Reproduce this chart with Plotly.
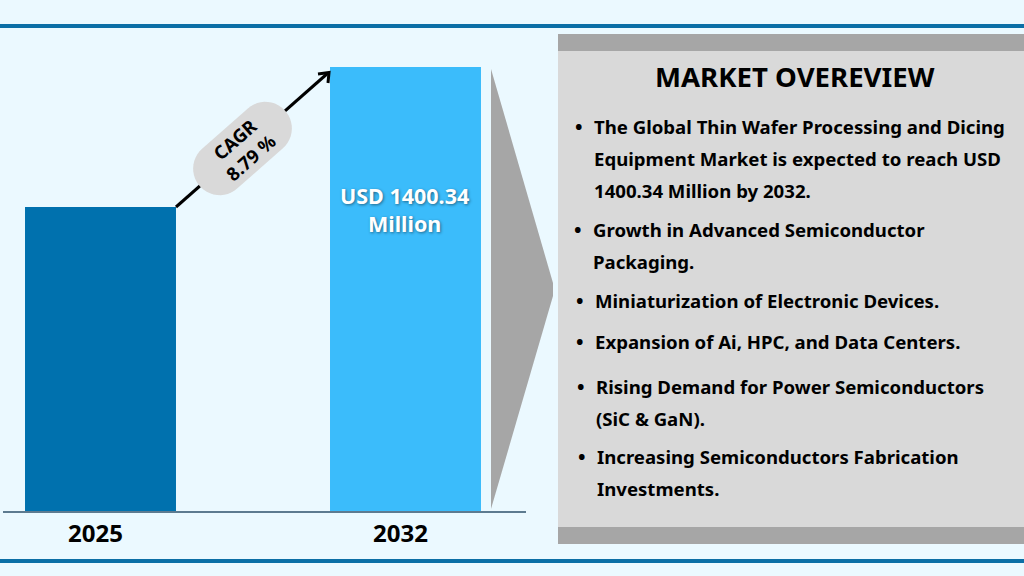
import numpy as np
import plotly.graph_objects as go

W, H = 1024, 576

years = ["2025", "2032"]
values = [959, 1400.34]
bar_colors = ["#0071ae", "#3bbcfb"]
bar_label = "USD 1400.34<br>Million"
cagr_label = "CAGR<br>8.79 %"
panel_title = "MARKET OVEREVIEW"

# (text, x of text, y of first line); wrapped lines stay as in the picture
bullets = [
    (["The Global Thin Wafer Processing and Dicing",
      "Equipment Market is expected to reach USD",
      "1400.34 Million by 2032."], 594, [126, 158, 190]),
    (["Growth in Advanced Semiconductor", "Packaging."], 593, [229, 261]),
    (["Miniaturization of Electronic Devices."], 595, [300]),
    (["Expansion of Ai, HPC, and Data Centers."], 595, [341]),
    (["Rising Demand for Power Semiconductors", "(SiC & GaN)."], 596, [386, 418]),
    (["Increasing Semiconductors Fabrication", "Investments."], 597, [456, 488]),
]

FONT = "Noto Sans"


def px(x):
    return x / W


def py(y):
    return 1 - y / H


def rect(x0, y0, x1, y1, color):
    return dict(type="rect", xref="paper", yref="paper", x0=px(x0), x1=px(x1),
                y0=py(y0), y1=py(y1), fillcolor=color, line_width=0, layer="below")


def poly_path(points, close=True):
    return "M" + "L".join(f"{px(a):.5f},{py(b):.5f}" for a, b in points) + ("Z" if close else "")


def pill_path(cx, cy, length, thick, angle):
    # rounded bar turned by angle, built in pixels then moved to paper coords
    r = thick / 2
    t1 = np.linspace(-np.pi / 2, np.pi / 2, 24)
    t2 = t1 + np.pi
    xs = np.r_[length / 2 - r + r * np.cos(t1), -length / 2 + r + r * np.cos(t2)]
    ys = np.r_[r * np.sin(t1), r * np.sin(t2)]
    a = np.radians(angle)
    return poly_path(list(zip(cx + xs * np.cos(a) - ys * np.sin(a),
                              cy + xs * np.sin(a) + ys * np.cos(a))))


def label(x, y, text, size, color="#000000", **kw):
    font = dict(family=FONT, size=size, color=color)
    if "shadow" in kw:
        font["shadow"] = kw.pop("shadow")
    args = dict(xref="paper", yref="paper", x=px(x), y=py(y), text=f"<b>{text}</b>", showarrow=False,
                xanchor="center", yanchor="middle", font=font)
    args.update(kw)
    return args


fig = go.Figure(go.Bar(
    x=years,
    y=values,
    width=0.495,
    marker=dict(color=bar_colors, line_width=0),
    hoverinfo="skip",
))

shapes = [
    rect(0, 24, W, 28, "#0b6fa6"),
    rect(0, 559, W, 563, "#0b6fa6"),
    rect(558, 34, W, 544, "#d9d9d9"),
    rect(558, 34, W, 51, "#a6a6a6"),
    rect(558, 527, W, 544, "#a6a6a6"),
    dict(type="path", xref="paper", yref="paper", line_width=0, fillcolor="#a6a6a6", layer="below",
         path=poly_path([(491, 69), (553, 283), (553, 296), (491, 509)])),
    # arrow, then the pill on top of it
    dict(type="line", xref="paper", yref="paper", x0=px(176), y0=py(207), x1=px(328), y1=py(73),
         line=dict(color="#000000", width=3)),
    dict(type="path", xref="paper", yref="paper", line=dict(color="#000000", width=3),
         path=poly_path([(318, 74), (329, 72.5), (328, 83)], close=False)),
    dict(type="path", xref="paper", yref="paper", line_width=0, fillcolor="#d9d9d9",
         path=pill_path(242.5, 148.5, 114, 53, -41.4)),
]

annotations = [
    label(242, 148, cagr_label, 18.5, textangle=-41.4),
    label(404.5, 209, bar_label, 21.5, color="#ffffff", shadow="1px 1px 3px rgba(0,0,0,0.45)"),
    label(795, 76, panel_title, 27.6),
]

for lines, x, ys in bullets:
    annotations.append(label(x - 15, ys[0], "•", 20))
    for line, y in zip(lines, ys):
        annotations.append(label(x - 2, y, line, 18.6, xanchor="left"))

fig.update_layout(
    width=W,
    height=H,
    margin=dict(l=0, r=0, t=0, b=0),
    paper_bgcolor="#ebf9ff",
    plot_bgcolor="rgba(0,0,0,0)",
    showlegend=False,
    shapes=shapes,
    annotations=annotations,
    xaxis=dict(
        domain=[px(3), px(526)],
        range=[(3 - 100.5) / 305, (526 - 100.5) / 305],
        type="category",
        tickmode="array",
        tickvals=years,
        ticktext=[f"<b>{y}</b>" for y in years],
        tickfont=dict(family=FONT, size=24, color="#000000"),
        ticks="",
        ticklabelstandoff=0,
        ticklabelshift=-5,
        showgrid=False,
        showline=True,
        linecolor="#5d7b90",
        linewidth=1.5,
    ),
    yaxis=dict(
        domain=[py(511), py(67)],
        range=[0, 1400.34],
        visible=False,
    ),
)

fig.write_html("out.html", post_script="document.body.style.margin='0';", config=dict(displayModeBar=False))
